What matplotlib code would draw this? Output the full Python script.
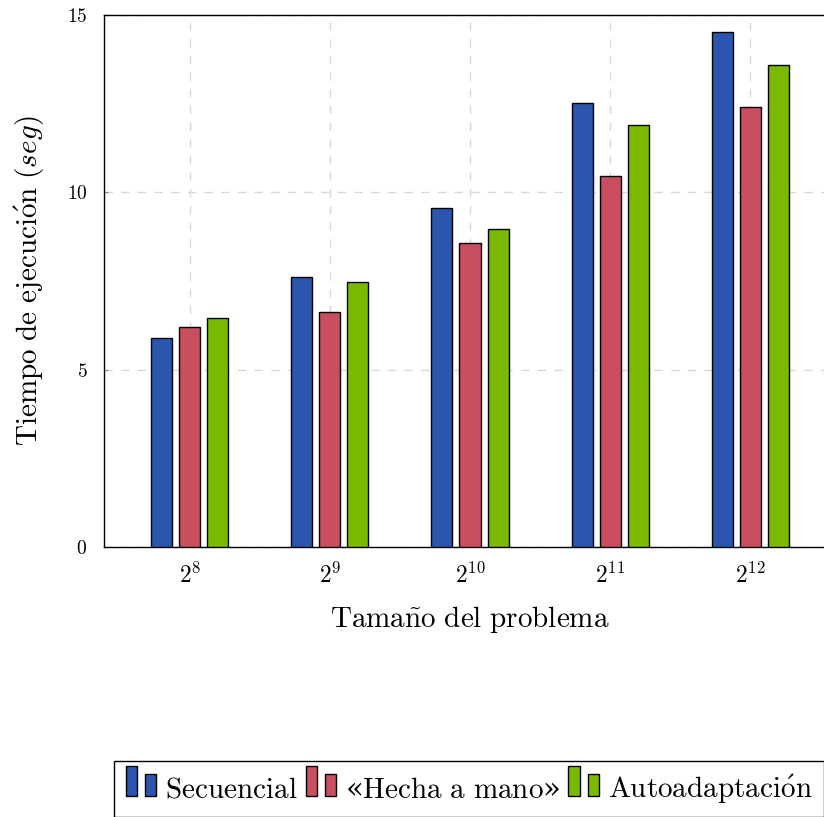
import matplotlib
matplotlib.use('Agg')
import matplotlib.pyplot as plt
from matplotlib.patches import Patch, Rectangle
import numpy as np

plt.rcParams['mathtext.fontset'] = 'cm'
plt.rcParams['font.family'] = 'DejaVu Serif'

# tiempos medidos (segundos) por tamaño 2^n
exponentes = [8, 9, 10, 11, 12]
secuencial = [5.88, 7.60, 9.56, 12.51, 14.53]
hecha_mano = [6.21, 6.63, 8.58, 10.46, 12.41]
autoadapt = [6.45, 7.47, 8.97, 11.90, 13.59]
yticks = [0, 5, 10, 15]

# las comillas latinas van con la fuente normal, cmr10 no las tiene bien
nombres = [r'$\mathrm{Secuencial}$',
           r'$\mathdefault{«}\mathrm{Hecha\ a\ mano}\mathdefault{»}$',
           r'$\mathrm{Autoadaptaci\'{o}n}$']
colores = ['#2a56b0', '#c84e60', '#79b900']


class DosBarras:
    # dibuja dos barritas en la leyenda, como hace pgfplots con ybar
    def legend_artist(self, legend, orig_handle, fontsize, handlebox):
        x0, y0 = handlebox.xdescent, handlebox.ydescent
        w, h = handlebox.width, handlebox.height
        bw = w * 0.36
        col = orig_handle.get_facecolor()
        tr = handlebox.get_transform()
        r1 = Rectangle((x0, y0 - 0.12 * h), bw, h, facecolor=col,
                       edgecolor='black', lw=1.0, transform=tr)
        r2 = Rectangle((x0 + w - bw, y0 - 0.12 * h), bw, h * 0.73, facecolor=col,
                       edgecolor='black', lw=1.0, transform=tr)
        handlebox.add_artist(r1)
        handlebox.add_artist(r2)
        return r1


fig = plt.figure(figsize=(8.24, 8.17), dpi=100)
ax = fig.add_axes([104 / 824, 270 / 817, 732 / 824, 532 / 817])

x = np.arange(len(exponentes))
series = [secuencial, hecha_mano, autoadapt]
for i, (vals, col) in enumerate(zip(series, colores)):
    ax.bar(x + (i - 1) * 0.2, vals, width=0.15, color=col,
           edgecolor='black', linewidth=1.0, zorder=3)

ax.set_xlim(-0.614, 4.614)
ax.set_ylim(0, 15)
ax.set_xticks(x)
ax.set_xticklabels([rf'$2^{{{e}}}$' for e in exponentes], fontsize=17)
ax.set_yticks(yticks)
ax.set_yticklabels([rf'${v}$' for v in yticks], fontsize=14)
ax.tick_params(axis='x', length=0, pad=11)
ax.tick_params(axis='y', direction='in', length=3, color='#888888', pad=12)

ax.grid(True, color='#d8d8d8', linestyle=(0, (6, 6)), linewidth=1.0)
ax.set_axisbelow(True)
for s in ax.spines.values():
    s.set_linewidth(1.0)

ax.set_xlabel(r'$\mathrm{Tama\~{n}o\ del\ problema}$', fontsize=21, labelpad=12)
ax.set_ylabel(r'$\mathrm{Tiempo\ de\ ejecuci\'{o}n}\ (seg)$', fontsize=21, labelpad=14)

proxies = [Patch(facecolor=c) for c in colores]
fig.legend(proxies, nombres, loc='upper left',
           bbox_to_anchor=(114 / 824, 1 - 761 / 817), ncol=3,
           handler_map={Patch: DosBarras()}, fontsize=21,
           frameon=True, fancybox=False, edgecolor='black', framealpha=1,
           handlelength=1.05, handleheight=1.2, handletextpad=0.3,
           columnspacing=0.28, borderaxespad=0, borderpad=0.4)
fig.legends[0].get_frame().set_linewidth(1.0)

fig.savefig('out.png', dpi=100)
